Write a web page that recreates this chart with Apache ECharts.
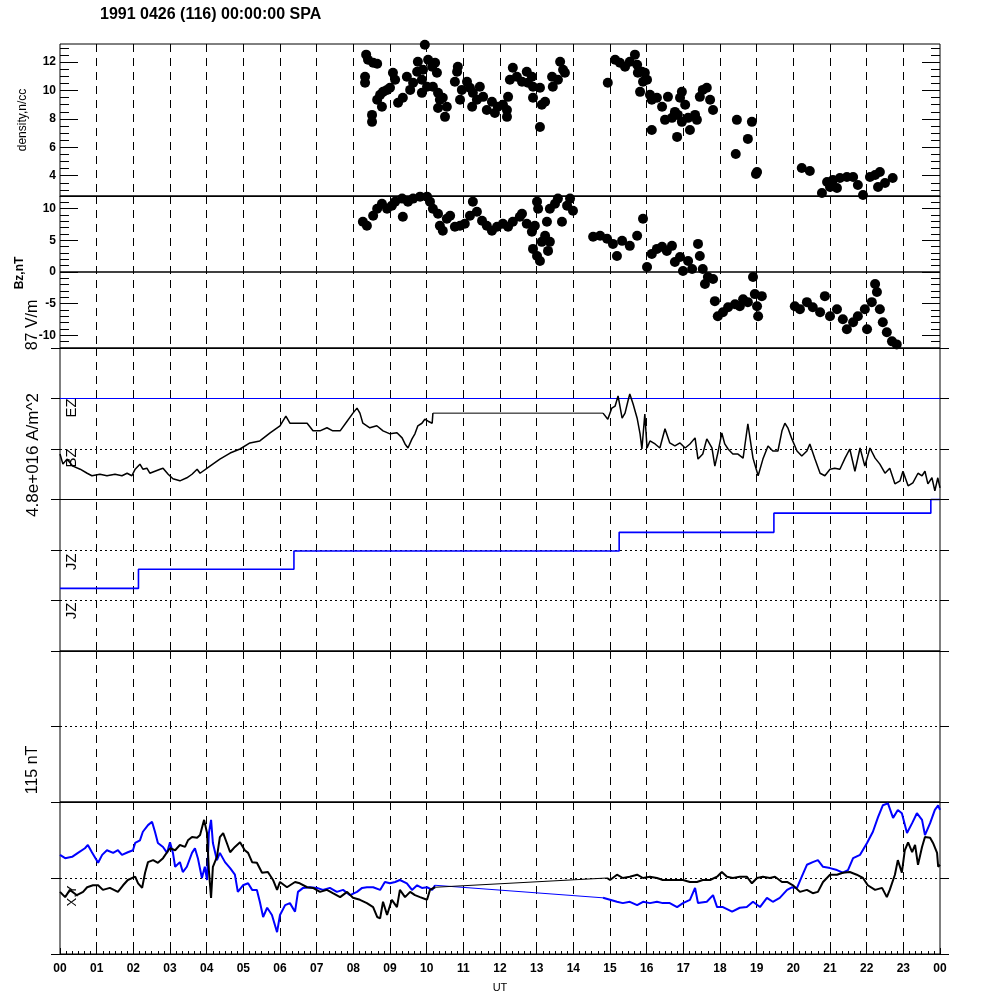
<!DOCTYPE html>
<html>
<head>
<meta charset="utf-8">
<script src="https://cdn.jsdelivr.net/npm/echarts@6/dist/echarts.min.js"></script>
<style>
html, body { margin: 0; padding: 0; background: #fff; }
#chart { width: 1000px; height: 1000px; }
</style>
</head>
<body>
<div id="chart"></div>
<script>
// x axis tick labels (UT hours)
const hourLabels = ['00','01','02','03','04','05','06','07','08','09','10','11','12',
    '13','14','15','16','17','18','19','20','21','22','23','00']

// density, n/cc  -> [UT hour, value]
const densityPoints = [
    [8.35,12.52],[8.40,12.16],[8.54,11.95],[8.65,11.88],[8.32,10.96],[8.32,10.54],[8.51,8.28],[8.51,7.79],
    [8.65,9.34],[8.73,9.69],[8.81,9.90],[8.78,8.85],[8.92,10.04],[9.08,11.24],[9.14,10.75],[9.00,10.19],
    [9.22,9.13],[9.35,9.48],[9.46,10.96],[9.55,10.04],[9.63,10.54],[9.74,11.32],[9.76,12.02],[9.87,10.75],
    [9.90,11.46],[9.95,13.22],[10.01,10.26],[10.04,12.16],[10.15,11.67],[10.23,11.95],[10.28,11.24],[10.17,10.26],
    [10.31,9.83],[10.36,9.34],[10.31,8.77],[10.50,8.14],[10.55,8.85],[10.44,9.48],[9.87,9.83],
    [10.85,11.67],[10.83,11.32],[10.77,10.61],[10.96,10.04],[10.91,9.34],[11.10,10.61],[11.18,10.19],[11.24,8.85],
    [11.26,9.83],[11.37,9.34],[11.45,10.26],[11.54,9.55],[11.64,8.63],[11.78,9.20],[11.86,8.42],[11.94,8.85],
    [12.08,8.99],[12.19,8.14],[12.22,9.55],[12.19,8.63],[12.35,11.60],[12.27,10.75],[12.46,10.96],[12.60,10.61],
    [12.73,11.32],[12.76,10.54],[12.87,10.96],[12.90,10.26],[13.09,10.19],[12.90,9.48],[13.23,9.20],[13.14,8.99],
    [13.09,7.43],[13.42,10.96],[13.44,10.26],[13.58,10.75],[13.64,12.02],[13.72,11.46],[13.77,11.24],
    [14.94,10.54],[15.14,12.16],[15.27,11.95],[15.41,11.67],[15.54,12.02],[15.68,12.52],[15.74,11.81],[15.76,11.24],
    [15.87,11.32],[15.95,11.24],[15.90,10.61],[16.01,10.75],[15.82,9.90],[16.09,9.69],[16.14,9.34],[16.28,9.48],
    [16.42,8.85],[16.58,9.55],[16.96,9.90],[16.91,9.48],[17.05,8.99],[16.77,8.49],[16.50,7.93],[16.69,8.07],
    [16.85,8.28],[16.96,7.79],[17.13,8.07],[17.32,8.28],[17.37,7.93],[16.83,6.73],[17.18,7.22],[16.14,7.22],
    [17.45,9.55],[17.53,10.04],[17.64,10.19],[17.73,9.34],[17.81,8.63],
    [18.46,7.93],[18.87,7.79],[18.76,6.59],[18.43,5.53],[19.01,4.26],[18.98,4.12],
    [20.23,4.54],[20.45,4.33],[20.92,3.55],[21.08,3.69],[21.27,3.84],[21.46,3.91],[21.63,3.91],[21.76,3.34],
    [21.00,3.20],[21.19,3.13],[20.78,2.78],[22.09,3.91],[22.23,4.05],[22.36,4.26],[22.50,3.48],[22.31,3.20],
    [22.71,3.84],[21.90,2.64]
]

// Bz, nT (upper half) and E, V/m (lower half) -> [UT hour, value]
const bzPoints = [
    [8.26,7.94],[8.37,7.30],[8.54,8.89],[8.65,10.00],[8.78,10.79],[8.92,10.00],[9.05,10.48],[9.14,11.11],
    [9.33,11.59],[9.35,8.73],[9.49,11.11],[9.63,11.59],[9.82,11.90],[10.01,11.90],[10.09,11.11],[10.17,10.00],
    [10.31,9.21],[10.36,7.30],[10.44,6.51],[10.55,8.41],[10.64,8.89],[10.77,7.14],[10.91,7.30],[11.04,7.62],
    [11.18,8.89],[11.26,11.11],[11.37,9.52],[11.51,8.10],[11.64,7.30],[11.78,6.51],[11.92,7.14],[12.08,7.62],
    [12.22,7.14],[12.35,7.94],[12.54,8.73],[12.60,9.21],[12.73,7.62],[12.87,6.35],[12.95,7.30],[12.90,3.65],
    [13.01,2.54],[13.09,1.75],[13.14,4.76],[13.23,5.71],[13.01,11.11],[13.04,10.00],[13.28,7.94],[13.36,10.00],
    [13.50,10.79],[13.58,11.59],[13.69,7.94],[13.83,10.48],[13.91,11.59],[13.99,9.68],[13.31,3.33],[13.36,4.76],
    [14.54,5.56],[14.73,5.71],[14.92,5.24],[15.08,4.44],[15.19,2.54],[15.33,4.92],[15.54,4.13],[15.74,5.71],
    [15.90,8.41],[16.01,0.79],[16.14,2.86],[16.28,3.65],[16.42,3.97],[16.55,3.33],[16.69,4.13],[16.77,1.59],
    [16.91,2.38],[16.99,0.16],[17.13,1.75],[17.24,0.48],[17.40,4.44],[17.45,2.54],[17.53,0.48],[17.59,-1.90],
    [17.67,-0.79],[17.81,-1.11],[17.86,-4.60],[17.94,-6.98],[18.08,-6.35],[18.22,-5.56],[18.41,-5.08],[18.54,-5.40],
    [18.63,-4.29],[18.76,-4.76],[18.90,-0.79],[18.95,-3.49],[19.04,-6.98],[19.14,-3.81],[19.01,-5.40],
    [20.04,-5.40],[20.18,-5.87],[20.37,-4.76],[20.53,-5.56],[20.73,-6.35],[20.86,-3.81],[21.00,-6.98],[21.19,-5.87],
    [21.35,-7.46],[21.46,-9.05],[21.63,-7.94],[21.76,-6.98],[21.95,-5.87],[22.01,-9.05],[22.14,-4.76],[22.23,-1.90],
    [22.28,-3.17],[22.36,-5.87],[22.44,-7.94],[22.55,-9.52],[22.69,-10.95],[22.82,-11.43]
]

// current density traces, in tick spacings of 4.8e+016 A/m^2, relative to their own baseline
const ezHours = [0, 24]
const ezValues = [0, 0]
const bzTraceA = [
    [0,-0.10],[0.08,-0.30],[0.19,-0.20],[0.35,-0.34],[0.55,-0.40],[0.74,-0.48],[0.87,-0.53],[1.09,-0.50],
    [1.28,-0.53],[1.50,-0.50],[1.69,-0.53],[1.83,-0.48],[1.96,-0.53],[2.05,-0.40],[2.18,-0.30],[2.26,-0.40],
    [2.37,-0.38],[2.45,-0.48],[2.59,-0.44],[2.73,-0.40],[2.81,-0.38],[2.95,-0.50],[3.08,-0.59],[3.27,-0.63],
    [3.46,-0.57],[3.60,-0.50],[3.74,-0.40],[3.82,-0.48],[4.09,-0.34],[4.36,-0.20],[4.64,-0.08],[4.91,0.00],
    [5.18,0.12],[5.45,0.16],[5.73,0.32],[6.00,0.46],[6.16,0.65],[6.27,0.51],[6.54,0.51],[6.74,0.51],
    [6.90,0.36],[7.09,0.36],[7.28,0.42],[7.44,0.36],[7.64,0.36],[7.83,0.55],[7.99,0.71],[8.10,0.81],
    [8.18,0.71],[8.26,0.51],[8.45,0.42],[8.64,0.46],[8.81,0.36],[9.00,0.30],[9.19,0.32],[9.33,0.22],
    [9.41,0.10],[9.49,0.02],[9.60,0.20],[9.68,0.30],[9.76,0.46],[9.87,0.51],[9.95,0.59],[10.04,0.55],
    [10.15,0.51],[10.17,0.71]
]
const bzTraceB = [
    [14.81,0.71],[14.86,0.69],[14.94,0.59],[15.05,0.81],[15.14,0.85],[15.22,1.05],[15.33,0.61],[15.41,0.71],
    [15.49,0.95],[15.54,1.09],[15.63,0.89],[15.74,0.61],[15.82,0.30],[15.87,0.00],[15.95,0.69],[16.01,0.02],
    [16.09,0.16],[16.23,0.10],[16.36,0.02],[16.50,0.40],[16.63,0.12],[16.77,0.06],[16.91,0.12],[17.05,0.02],
    [17.18,0.10],[17.32,0.22],[17.40,-0.20],[17.53,-0.10],[17.64,0.20],[17.78,0.02],[17.86,-0.34],[17.94,-0.08],
    [18.05,0.32],[18.13,0.10],[18.22,0.00],[18.35,-0.10],[18.49,-0.10],[18.63,-0.18],[18.76,0.50],[18.90,-0.18],
    [19.04,-0.53],[19.17,-0.20],[19.31,0.06],[19.44,-0.04],[19.58,-0.04],[19.69,0.36],[19.77,0.51],[19.85,0.42],
    [19.96,0.20],[20.10,-0.04],[20.23,-0.14],[20.37,-0.04],[20.45,0.10],[20.59,-0.20],[20.73,-0.48],[20.86,-0.53],
    [21.00,-0.40],[21.13,-0.38],[21.27,-0.40],[21.41,-0.18],[21.54,0.00],[21.68,-0.44],[21.82,0.02],[21.95,-0.34],
    [22.09,0.02],[22.23,-0.18],[22.36,-0.30],[22.50,-0.48],[22.63,-0.38],[22.77,-0.69],[22.91,-0.63],[22.99,-0.44],
    [23.13,-0.73],[23.26,-0.67],[23.40,-0.48],[23.51,-0.53],[23.59,-0.44],[23.67,-0.69],[23.78,-0.57],[23.86,-0.83],
    [23.94,-0.57],[24.00,-0.77]
]
const jzHours = [0, 2.14, 6.38, 15.25, 19.47, 23.75, 24]
const jzValues = [-0.76, -0.38, -0.02, 0.35, 0.73, 1.0, 1.0]

// X and Y, nT
const xTraceA = [
    [0,-21],[0.14,-29],[0.27,-18],[0.46,-26],[0.63,-21],[0.74,-14],[0.90,-11],[1.04,-11],[1.17,-18],[1.36,-15],
    [1.58,-21],[1.72,-11],[1.85,-3],[2.05,2],[2.13,-8],[2.24,-15],[2.32,8],[2.40,24],[2.54,27],[2.67,23],
    [2.81,30],[2.92,39],[3.00,45],[3.14,42],[3.27,50],[3.41,47],[3.49,57],[3.60,62],[3.74,61],[3.82,65],
    [3.93,88],[4.01,68],[4.06,12],[4.12,-30],[4.17,17],[4.28,32],[4.36,62],[4.45,68],[4.55,53],[4.64,39],
    [4.77,47],[4.91,54],[5.04,42],[5.13,38],[5.24,24],[5.37,23],[5.51,8],[5.67,9],[5.81,-3],[5.92,-18],
    [6.00,-6],[6.19,-14],[6.41,-6],[6.54,-8],[6.74,-14],[6.90,-15],[7.09,-21],[7.28,-18],[7.44,-23],[7.64,-29],
    [7.83,-21],[7.99,-30],[8.18,-33],[8.37,-38],[8.54,-44],[8.65,-59],[8.73,-61],[8.81,-36],[8.92,-56],[9.05,-33],
    [9.19,-44],[9.27,-18],[9.41,-29],[9.55,-21],[9.68,-26],[9.82,-29],[10.01,-33],[10.09,-18],[10.23,-14]
]
const xTraceB = [
    [14.92,0],[15.00,-3],[15.19,5],[15.35,0],[15.54,2],[15.74,5],[15.90,0],[16.09,2],[16.28,0],[16.44,-3],
    [16.63,-3],[16.83,-3],[16.99,-3],[17.18,-6],[17.37,-6],[17.53,-3],[17.73,-3],[17.92,2],[18.05,9],[18.19,2],
    [18.35,0],[18.54,2],[18.73,2],[18.87,-8],[19.01,0],[19.17,2],[19.36,0],[19.50,2],[19.69,-6],[19.83,-6],
    [19.99,-11],[20.18,-21],[20.37,-18],[20.53,-23],[20.67,-21],[20.81,-6],[21.00,5],[21.19,5],[21.35,8],[21.54,9],
    [21.73,5],[21.90,0],[22.03,-11],[22.23,-18],[22.42,-15],[22.55,-29],[22.63,-18],[22.77,5],[22.85,27],[22.96,8],
    [23.04,42],[23.13,54],[23.24,39],[23.32,50],[23.40,20],[23.51,47],[23.59,62],[23.73,61],[23.81,53],[23.92,38],
    [23.95,17],[24.00,20]
]
const yTraceA = [
    [0,35],[0.14,30],[0.33,32],[0.49,38],[0.68,45],[0.76,50],[0.87,39],[1.04,23],[1.15,35],[1.28,42],
    [1.45,38],[1.58,42],[1.69,35],[1.85,39],[1.99,42],[2.05,53],[2.18,57],[2.26,70],[2.40,80],[2.51,85],
    [2.59,70],[2.67,53],[2.81,47],[2.92,38],[3.00,54],[3.08,38],[3.14,17],[3.27,24],[3.35,9],[3.46,17],
    [3.60,38],[3.68,45],[3.76,30],[3.87,0],[3.95,17],[4.01,-3],[4.06,68],[4.12,88],[4.17,53],[4.28,27],
    [4.36,38],[4.50,24],[4.64,15],[4.77,5],[4.85,-21],[4.99,-11],[5.13,-8],[5.24,-18],[5.37,-18],[5.45,-36],
    [5.54,-59],[5.65,-45],[5.78,-56],[5.92,-82],[6.00,-56],[6.14,-41],[6.27,-38],[6.41,-51],[6.49,-21],[6.63,-15],
    [6.82,-14],[7.01,-15],[7.17,-18],[7.36,-15],[7.55,-21],[7.72,-18],[7.91,-26],[8.10,-21],[8.24,-15],[8.37,-14],
    [8.54,-14],[8.73,-18],[8.86,-6],[9.00,-8],[9.14,-6],[9.27,-3],[9.46,-8],[9.60,-18],[9.74,-11],[9.87,-15],
    [10.01,-14],[10.15,-18],[10.23,-11]
]
const yTraceB = [
    [14.81,-30],[15.00,-33],[15.19,-36],[15.35,-38],[15.54,-36],[15.74,-41],[15.90,-36],[16.09,-38],[16.28,-36],[16.44,-38],
    [16.63,-38],[16.83,-44],[16.99,-38],[17.18,-33],[17.32,-15],[17.40,-38],[17.64,-36],[17.81,-26],[17.92,-44],[18.08,-44],
    [18.33,-51],[18.54,-45],[18.73,-44],[18.90,-36],[19.09,-44],[19.28,-30],[19.44,-36],[19.63,-30],[19.83,-18],[19.96,-14],
    [20.10,-15],[20.23,2],[20.37,20],[20.53,24],[20.67,27],[20.81,17],[21.00,15],[21.19,12],[21.35,8],[21.49,12],
    [21.63,30],[21.82,35],[22.01,53],[22.17,70],[22.31,92],[22.44,110],[22.58,113],[22.72,91],[22.85,103],[22.96,98],
    [23.10,68],[23.24,83],[23.37,98],[23.51,88],[23.59,65],[23.73,83],[23.86,103],[23.95,110],[24.00,103]
]

const BLUE = '#0000ff'
const FONT = 'Liberation Sans'
// baselines of the traces inside the current density panel (tick units)
const EZ_BASE = 5, BZ_BASE = 4, JZ_BASE = 2

const chart = echarts.init(document.getElementById('chart'))

const panels = [
    { top: 44, height: 152 },
    { top: 196, height: 152 },
    { top: 348, height: 303 },
    { top: 651, height: 151 },
    { top: 802, height: 152 }
]

const grids = panels.map(p => ({
    left: 60, width: 880, top: p.top, height: p.height,
    show: true, borderColor: '#000', borderWidth: 1, backgroundColor: 'transparent'
}))

const xAxes = panels.map((p, i) => ({
    type: 'value', gridIndex: i, min: 0, max: 24, interval: 1,
    axisLine: { show: true, onZero: false, lineStyle: { color: '#000', width: 1 } },
    axisTick: { show: i === 4, inside: true, length: 6, lineStyle: { color: '#000' } },
    minorTick: { show: i === 4, splitNumber: 6, length: 3, lineStyle: { color: '#000' } },
    axisLabel: {
        show: i === 4, margin: 9, color: '#000', fontSize: 12, fontWeight: 'bold', fontFamily: FONT,
        formatter: v => hourLabels[v] ?? ''
    },
    splitLine: {
        show: true, showMinLine: false, showMaxLine: false,
        lineStyle: { color: '#000', width: 1, type: [8, 6] }
    }
}))

const tickAxis = (grid, pos, min, max, values, len, labels) => ({
    type: 'value', gridIndex: grid, position: pos, min, max,
    axisLine: { show: false, onZero: false },
    axisTick: { show: true, inside: true, length: len, customValues: values, lineStyle: { color: '#000' } },
    axisLabel: labels ? {
        show: true, customValues: values, margin: 4, color: '#000', fontSize: 12, fontWeight: 'bold', fontFamily: FONT
    } : { show: false },
    splitLine: { show: false }
})

const densMajor = [4, 6, 8, 10, 12]
const densMinor = [3, 3.5, 4.5, 5, 5.5, 6.5, 7, 7.5, 8.5, 9, 9.5, 10.5, 11, 11.5, 12.5, 13]
const bzMajor = [-10, -5, 0, 5, 10]
const bzMinor = [-11, -9, -8, -7, -6, -4, -3, -2, -1, 1, 2, 3, 4, 6, 7, 8, 9, 11]

const outAxis = (grid, pos, min, max, interval) => ({
    type: 'value', gridIndex: grid, position: pos, min, max, interval,
    axisLine: { show: false, onZero: false },
    axisTick: { show: true, inside: false, length: 9, lineStyle: { color: '#000' } },
    axisLabel: { show: false },
    splitLine: {
        show: pos === 'left', showMinLine: false, showMaxLine: false,
        lineStyle: { color: '#000', width: 1, type: [2, 3] }
    }
})

const yAxes = [
    tickAxis(0, 'left', 2.57, 13.27, densMajor, 18, true),   // 0
    tickAxis(0, 'left', 2.57, 13.27, densMinor, 9, false),   // 1
    tickAxis(0, 'right', 2.57, 13.27, densMajor, 18, false), // 2
    tickAxis(0, 'right', 2.57, 13.27, densMinor, 9, false),  // 3
    tickAxis(1, 'left', -12, 12, bzMajor, 18, true),         // 4
    tickAxis(1, 'left', -12, 12, bzMinor, 9, false),         // 5
    tickAxis(1, 'right', -12, 12, bzMajor, 18, false),       // 6
    tickAxis(1, 'right', -12, 12, bzMinor, 9, false),        // 7
    outAxis(2, 'left', 0, 6, 1),                             // 8
    outAxis(2, 'right', 0, 6, 1),                            // 9
    outAxis(3, 'left', 0, 2, 1),                             // 10
    outAxis(3, 'right', 0, 2, 1),                            // 11
    outAxis(4, 'left', -115, 115, 115),                      // 12
    outAxis(4, 'right', -115, 115, 115)                      // 13
]

const lineSeries = (xi, yi, data, color, width, extra) => Object.assign({
    type: 'line', xAxisIndex: xi, yAxisIndex: yi, data,
    showSymbol: false, symbol: 'none', animation: false, silent: true,
    lineStyle: { color, width }
}, extra || {})

const shift = (pts, base) => pts.map(p => [p[0], p[1] + base])
const join = (a, b) => [a[a.length - 1], b[0]]

const dotStyle = { color: '#000', opacity: 1 }

const series = [
    {
        type: 'scatter', xAxisIndex: 0, yAxisIndex: 0, data: densityPoints,
        symbolSize: 10, itemStyle: dotStyle, animation: false, silent: true
    },
    {
        type: 'scatter', xAxisIndex: 1, yAxisIndex: 4, data: bzPoints,
        symbolSize: 10, itemStyle: dotStyle, animation: false, silent: true,
        markLine: {
            silent: true, symbol: 'none', label: { show: false }, animation: false,
            lineStyle: { color: '#000', width: 1.5, type: 'solid' },
            data: [{ yAxis: 0 }]
        }
    },
    lineSeries(2, 8, ezHours.map((h, i) => [h, ezValues[i] + EZ_BASE]), BLUE, 1),
    lineSeries(2, 8, shift(bzTraceA, BZ_BASE), '#000', 1.5),
    lineSeries(2, 8, shift(join(bzTraceA, bzTraceB), BZ_BASE), '#000', 1),
    lineSeries(2, 8, shift(bzTraceB, BZ_BASE), '#000', 1.5),
    lineSeries(2, 8, jzHours.map((h, i) => [h, jzValues[i] + JZ_BASE]), BLUE, 1.6, {
        step: 'end',
        markLine: {
            silent: true, symbol: 'none', label: { show: false }, animation: false,
            lineStyle: { color: '#000', width: 1, type: 'solid' },
            data: [{ yAxis: 3 }]
        }
    }),
    lineSeries(4, 12, join(yTraceA, yTraceB), BLUE, 1),
    lineSeries(4, 12, join(xTraceA, xTraceB), '#000', 1),
    lineSeries(4, 12, yTraceA, BLUE, 2),
    lineSeries(4, 12, yTraceB, BLUE, 2),
    lineSeries(4, 12, xTraceA, '#000', 2),
    lineSeries(4, 12, xTraceB, '#000', 2)
]

const txt = (text, x, y, size, opts) => Object.assign({
    type: 'text', x, y, rotation: Math.PI / 2, silent: true, z: 100,
    style: {
        text, fill: '#000', font: `${size}px "${FONT}"`,
        textAlign: 'center', textVerticalAlign: 'middle'
    }
}, opts || {})

const graphics = [
    txt('1991 0426 (116) 00:00:00 SPA', 100, 15, 16, {
        rotation: 0,
        style: { text: '1991 0426 (116) 00:00:00 SPA', fill: '#000', font: `bold 16px "${FONT}"`, textAlign: 'left', textVerticalAlign: 'middle' }
    }),
    txt('density,n/cc', 23, 120, 12),
    txt('Bz,nT', 20, 273, 12, { style: { text: 'Bz,nT', fill: '#000', font: `bold 12px "${FONT}"`, textAlign: 'center', textVerticalAlign: 'middle' } }),
    txt('87 V/m', 33, 325, 16),
    txt('4.8e+016 A/m^2', 33, 455, 17),
    txt('115 nT', 33, 770, 16),
    txt('EZ', 72, 408, 15),
    txt('BZ', 72, 458, 15),
    txt('JZ', 72, 562, 15),
    txt('JZ', 72, 611, 15),
    txt('X,Y', 72, 896, 13),
    txt('UT', 500, 988, 11, { rotation: 0 })
]

chart.setOption({
    animation: false,
    backgroundColor: '#fff',
    grid: grids,
    xAxis: xAxes,
    yAxis: yAxes,
    series,
    graphic: graphics
})
</script>
</body>
</html>
